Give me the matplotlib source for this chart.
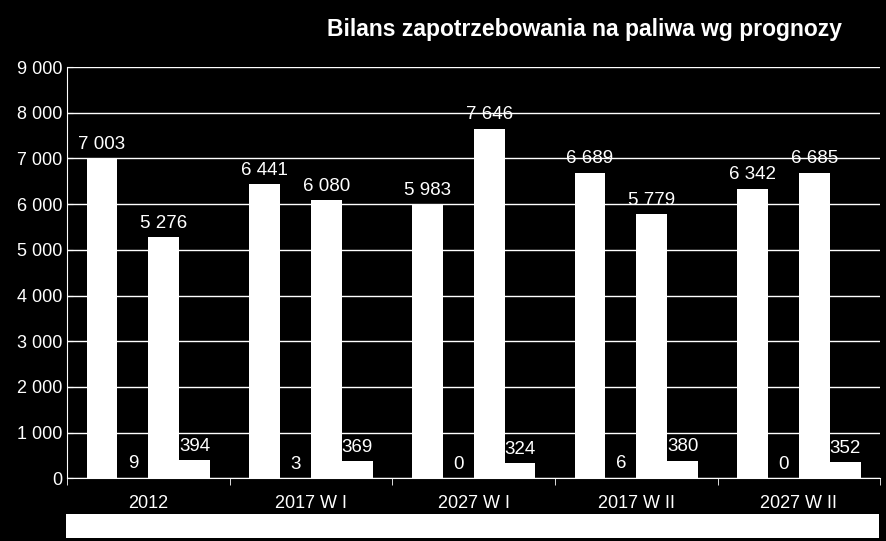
import matplotlib
matplotlib.use("Agg")
import matplotlib.pyplot as plt
import numpy as np

categories = ["2012", "2017 W I", "2027 W I", "2017 W II", "2027 W II"]
s1 = [7003, 6441, 5983, 6689, 6342]
s2 = [9, 3, 0, 6, 0]
s3 = [5276, 6080, 7646, 5779, 6685]
s4 = [394, 369, 324, 380, 352]
series = [s1, s2, s3, s4]

def fmt(v):
    return f"{v:,}".replace(",", " ")

fig = plt.figure(figsize=(8.86, 5.41), dpi=100, facecolor="black")
ax = fig.add_axes([0.0756, 0.116, 0.918, 0.76], facecolor="black")
x = np.arange(len(categories))
w = 0.19
offs = [-1.5, -0.5, 0.5, 1.5]
for s, o in zip(series, offs):
    ax.bar(x + o * w, s, width=w, color="white", zorder=3)
    for xi, v in zip(x, s):
        ax.text(xi + o * w, v + 120, fmt(v), ha="center", va="bottom",
                color="white", fontsize=13.5, zorder=4, family="Liberation Sans")
ax.set_xlim(-0.5, len(categories) - 0.5)
ax.set_ylim(0, 9000)
ax.set_yticks(range(0, 9001, 1000))
ax.set_yticklabels([fmt(v) for v in range(0, 9001, 1000)])
ax.set_xticks(x)
ax.set_xticklabels(categories)
ax.set_xticks(np.arange(-0.5, len(categories), 1), minor=True)
ax.tick_params(axis="x", which="major", length=0, pad=12)
ax.tick_params(axis="x", which="minor", length=5, color="white")
ax.tick_params(axis="y", length=4, color="white", direction="in")
for lab in ax.get_xticklabels() + ax.get_yticklabels():
    lab.set_color("white"); lab.set_fontsize(13); lab.set_family("Liberation Sans")
ax.grid(axis="y", color="white", linewidth=1, zorder=0)
for sp in ["top", "right"]:
    ax.spines[sp].set_visible(False)
for sp in ["left", "bottom"]:
    ax.spines[sp].set_color("white")
fig.text(0.95, 0.945, "Bilans zapotrzebowania na paliwa wg prognozy", color="white",
         fontsize=16.5, fontweight="bold", family="Liberation Sans", va="center", ha="right")
fig.patches.append(plt.Rectangle((0.074, 0.006), 0.918, 0.043, transform=fig.transFigure,
                                 facecolor="white", edgecolor="none"))
fig.savefig("out.png", dpi=100, facecolor="black")
